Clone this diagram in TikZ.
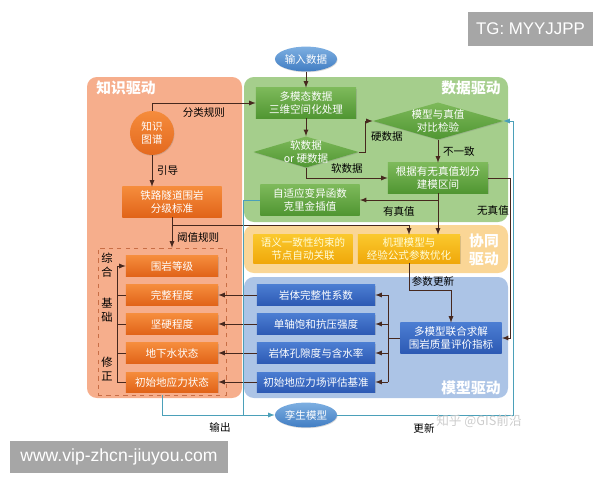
\documentclass[tikz,border=0pt]{standalone}
\usepackage{fontspec}
\setmainfont{Noto Sans CJK SC}
\newfontfamily\latfont{Liberation Sans}
\usetikzlibrary{shapes.geometric,shadows}

\definecolor{knowpanel}{RGB}{246,174,140}
\definecolor{datapanel}{RGB}{165,206,140}
\definecolor{synpanel}{RGB}{250,214,150}
\definecolor{modelpanel}{RGB}{172,196,230}
\definecolor{linec}{RGB}{70,40,30}
\definecolor{tealc}{RGB}{75,160,185}
\definecolor{framec}{RGB}{200,110,70}
\definecolor{wmgray}{RGB}{166,166,166}

\tikzset{
  basebox/.style={rectangle, inner sep=0pt, align=center, text=white,
    font=\fontsize{7.5}{9}\selectfont,
    drop shadow={opacity=0.3, shadow xshift=0.4pt, shadow yshift=-0.6pt}},
  greenbox/.style={basebox, top color={rgb,255:red,125;green,185;blue,90},
    bottom color={rgb,255:red,80;green,150;blue,50}, minimum width=2.5cm, minimum height=0.75cm},
  greendia/.style={basebox, diamond, top color={rgb,255:red,125;green,185;blue,90},
    bottom color={rgb,255:red,80;green,150;blue,50}},
  orangebox/.style={basebox, top color={rgb,255:red,245;green,140;blue,60},
    bottom color={rgb,255:red,225;green,100;blue,25}, minimum width=2.3cm, minimum height=0.5cm},
  yellowbox/.style={basebox, text=white!85!yellow, top color={rgb,255:red,250;green,200;blue,45},
    bottom color={rgb,255:red,240;green,168;blue,10}, minimum width=2.5cm, minimum height=0.7cm},
  bluebox/.style={basebox, top color={rgb,255:red,75;green,125;blue,210},
    bottom color={rgb,255:red,45;green,90;blue,180}, minimum width=2.95cm, minimum height=0.5cm},
  ovalbox/.style={basebox, ellipse, top color={rgb,255:red,125;green,175;blue,225},
    bottom color={rgb,255:red,65;green,125;blue,195}, minimum width=1.55cm, minimum height=0.62cm},
  boxtext/.style={text=white, align=center, font=\fontsize{7.5}{9}\selectfont},
  link/.style={draw=linec, line width=0.6pt},
  tlink/.style={draw=tealc, line width=0.6pt},
  lbl/.style={text=black, font=\fontsize{7.5}{9}\selectfont},
  paneltitle/.style={text=white, font=\fontsize{10.5}{12.5}\selectfont\bfseries, align=center},
}

\begin{document}
\begin{tikzpicture}[x=0.025cm, y=-0.025cm]
    \useasboundingbox (0,0) rectangle (600,480);
    % panels
    \fill[knowpanel, rounded corners=7pt] (87,77) rectangle (242,398);
    \fill[datapanel, rounded corners=7pt] (244,77) rectangle (508,222);
    \fill[synpanel, rounded corners=7pt] (244,225) rectangle (508,273);
    \fill[modelpanel, rounded corners=7pt] (244,277) rectangle (508,398);
    \node[paneltitle] at (126,88) {知识驱动};
    \node[paneltitle] at (471,88) {数据驱动};
    \node[paneltitle] at (484,250) {协同\\驱动};
    \node[paneltitle] at (471,388) {模型驱动};

    % data driven
    \node[ovalbox] (input) at (306,59) {输入数据};
    \node[greenbox] (multi) at (306,103) {多模态数据\\三维空间化处理};
    \node[greendia, minimum width=2.63cm, minimum height=0.78cm,
          label={[boxtext]center:{软数据\\or 硬数据}}] (soft) at (306,152) {};
    \node[greendia, minimum width=3.25cm, minimum height=0.93cm,
          label={[boxtext]center:{模型与真值\\对比检验}}] (dcheck) at (438,121) {};
    \node[greenbox] (split) at (438,178) {根据有无真值划分\\建模区间};
    \node[greenbox, minimum width=2.48cm] (krig) at (310,200) {自适应变异函数\\克里金插值};

    % knowledge driven
    \node[basebox, circle, minimum size=1.1cm, top color={rgb,255:red,245;green,140;blue,60},
          bottom color={rgb,255:red,228;green,105;blue,30}] (kg) at (152,133) {知识\\图谱};
    \node[orangebox, minimum width=2.48cm, minimum height=0.75cm] (std) at (172,202) {铁路隧道围岩\\分级标准};
    \node[draw=framec, dashed, line width=0.4pt, minimum width=3.2cm, minimum height=3.675cm,
          inner sep=0pt] (frame) at (162,321.5) {};
    \node[orangebox] (r1) at (172,266) {围岩等级};
    \node[orangebox] (r2) at (172,295) {完整程度};
    \node[orangebox] (r3) at (172,324) {坚硬程度};
    \node[orangebox] (r4) at (172,353) {地下水状态};
    \node[orangebox] (r5) at (172,382) {初始地应力状态};
    \node[lbl, font=\fontsize{8}{10}\selectfont, align=center] at (107,265) {综\\合};
    \node[lbl, font=\fontsize{8}{10}\selectfont, align=center] at (107,310) {基\\础};
    \node[lbl, font=\fontsize{8}{10}\selectfont, align=center] at (107,369) {修\\正};

    % synergy
    \node[yellowbox, minimum width=2.48cm] (sem) at (303,249) {语义一致性约束的\\节点自动关联};
    \node[yellowbox, minimum width=2.55cm] (mech) at (409,249) {机理模型与\\经验公式参数优化};

    % model driven
    \node[bluebox] (b1) at (316,295) {岩体完整性系数};
    \node[bluebox] (b2) at (316,324) {单轴饱和抗压强度};
    \node[bluebox] (b3) at (316,353) {岩体孔隙度与含水率};
    \node[bluebox] (b4) at (316,382) {初始地应力场评估基准};
    \node[bluebox, minimum width=2.53cm, minimum height=0.75cm] (mm) at (451,338) {多模型联合求解\\围岩质量评价指标};
    \node[ovalbox] (twin) at (306,415) {孪生模型};

    % connectors
    \draw[link, -latex] (input) -- (multi);
    \draw[link, -latex] (multi) -- (soft);
    \draw[link, -latex] (soft.east) -- ++(7,0) |- node[lbl, pos=0.25, right] {硬数据} (dcheck.west);
    \draw[link, -latex] (soft.south) |- node[lbl, pos=0.75, above] {软数据} (split.west);
    \draw[link, -latex] (dcheck) -- node[lbl, right] {不一致} (split);
    \draw[link, -latex] (split.south) |- node[lbl, pos=0.75, below=1pt] {有真值} (krig.east);
    \draw[link, -latex] (split.south) -- (split.south |- mech.north);
    \coordinate (rgt) at (510,178);
    \draw[link, -latex] (split.east) -- (rgt) |- (mm.east);
    \node[lbl] at (493,210) {无真值};

    \draw[link, -latex] (kg.north) |- node[lbl, pos=0.75, below] {分类规则} (multi.west);
    \draw[link, -latex] (kg.south) -- node[lbl, right] {引导} (kg.south |- std.north);
    \draw[link, -latex] (std.south) -- ++(0,8) -| (mech.north);
    \draw[link, -latex] (std.south) -- node[lbl, pos=0.68, right] {阈值规则} (std.south |- frame.north);

    \coordinate (brk) at (117,266);
    \draw[link, -latex] (brk) -- (r1.west);
    \draw[link] (r5.west) -| (brk);
    \foreach \r in {r2,r3,r4}
        \draw[link] (\r.west) -- (\r.west -| brk);
    \foreach \b/\r in {b1/r2,b2/r3,b3/r4,b4/r5}
        \draw[link, -latex] (\b.west) -- (\r.east);

    \coordinate (fork) at (388,338);
    \draw[link] (mm.west) -- (fork);
    \draw[link] (fork |- b1.east) -- (fork |- b4.east);
    \foreach \b in {b1,b2,b3,b4}
        \draw[link, -latex] (fork |- \b.east) -- (\b.east);
    \draw[link, -latex] (mech.south) -- ++(0,27) -| (mm.north);
    \node[lbl] at (433,281) {参数更新};

    \coordinate (tl) at (243,415);
    \coordinate (tr) at (513,415);
    \draw[tlink] (krig.west) -| (tl);
    \draw[tlink, -latex] (frame.south) |- (twin.west);
    \draw[tlink, -latex] (twin.east) -- (tr) |- (dcheck.east);
    \node[lbl] at (220,427) {输出};
    \node[lbl] at (424,428) {更新};
    \node[text=gray!40, font=\fontsize{9}{11}\selectfont] at (479,421) {知乎 @GIS前沿};

    % watermarks
    \node[fill=wmgray, text=white, font=\latfont\fontsize{12}{14}\selectfont, inner sep=0pt,
          minimum width=3.125cm, minimum height=0.85cm] (tg) at (530.5,29) {TG: MYYJJPP};
    \node[fill=wmgray, text=white, font=\latfont\fontsize{12.5}{14}\selectfont, inner sep=0pt,
          minimum width=5.45cm, minimum height=0.8cm] (url) at (119,457) {www.vip-zhcn-jiuyou.com};
\end{tikzpicture}
\end{document}
